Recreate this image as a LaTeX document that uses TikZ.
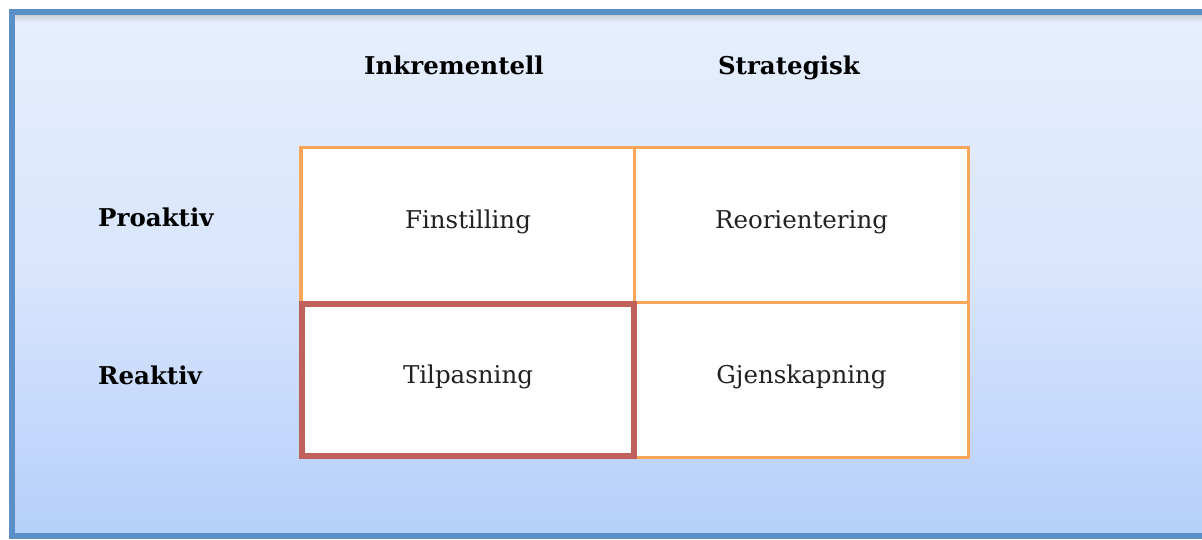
\documentclass[tikz,border=0pt]{standalone}
\usepackage{fontspec}
\setmainfont{DejaVu Serif}
\usetikzlibrary{shadows}
\definecolor{frameblue}{HTML}{5B8FC7}
\definecolor{bgtop}{HTML}{E7EFFD}
\definecolor{bgmid}{HTML}{D8E5FC}
\definecolor{bgbot}{HTML}{B5CFFA}
\definecolor{cellorange}{HTML}{F9A65A}
\definecolor{cellred}{HTML}{C0605A}
\definecolor{txt}{HTML}{222222}
\tikzset{
  cell/.style={draw=cellorange, line width=3.5pt, fill=white, minimum width=334pt, minimum height=155pt, inner sep=0pt, text=txt, text height=18pt, text depth=11pt, font=\fontsize{24.5}{28}\selectfont},
  hilite/.style={cell, draw=cellred, line width=5.5pt, minimum width=332pt, minimum height=152pt, drop shadow={shadow xshift=1.5pt, shadow yshift=-2.5pt, opacity=0.3}},
  head/.style={font=\fontsize{24.5}{28}\selectfont\bfseries, text=black, inner sep=0pt, anchor=base},
  rowhead/.style={head, anchor=base west}
}
\begin{document}
\begin{tikzpicture}[x=1pt, y=-1pt]
\useasboundingbox (0,0) rectangle (1202,539);
\shade[top color=bgtop, bottom color=bgbot, middle color=bgmid] (12,12) rectangle (1215,536);
\shade[top color=black!30, bottom color=bgtop, opacity=0.5] (15,15) rectangle (1215,22);
\draw[frameblue, line width=6pt] (1215,12) -- (12,12) -- (12,536) -- (1215,536);
\node[cell] (fin) at (468,225) {Finstilling};
\node[cell] (reo) at (801.5,225) {Reorientering};
\node[cell] (gje) at (801.5,380) {Gjenskapning};
\node[hilite] (til) at (468,380) {Tilpasning};
\node[head] (ink) at (454,74) {Inkrementell};
\node[head] (str) at (789,74) {Strategisk};
\node[rowhead] (pro) at (98,226) {Proaktiv};
\node[rowhead] (rea) at (98,384) {Reaktiv};
\end{tikzpicture}
\end{document}
